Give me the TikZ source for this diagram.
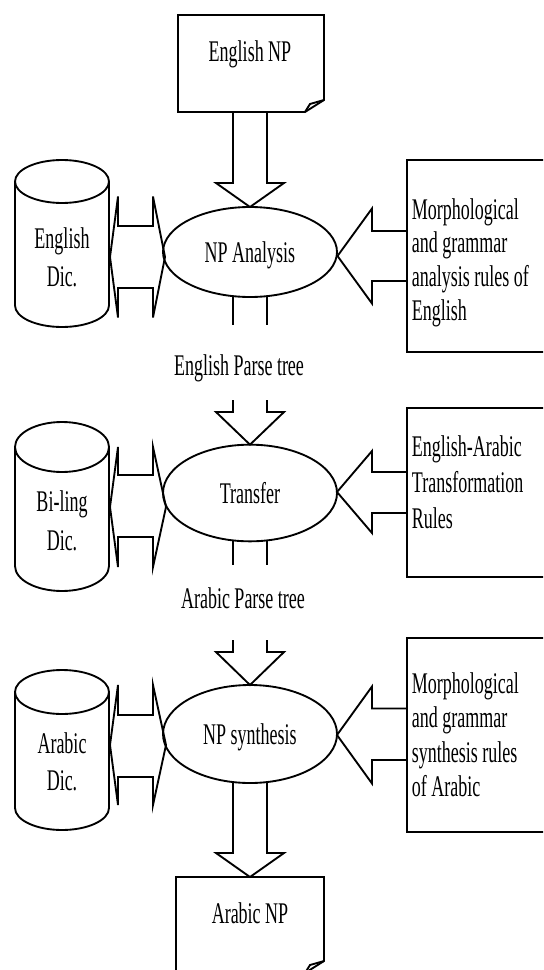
\documentclass[tikz,border=0pt]{standalone}
\usepackage{fontspec}
\setmainfont[FakeStretch=0.6]{Liberation Serif}
\usetikzlibrary{shapes.geometric}
\newcommand\fs{\fontsize{22.5pt}{26pt}\selectfont}
\begin{document}
\begin{tikzpicture}[x=0.75pt,y=-0.75pt,line width=1.4pt,line join=miter,
  lbl/.style={font=\fs,inner sep=0pt,anchor=base},
  rl/.style={font=\fs,inner sep=0pt,anchor=base west},
  proc/.style={draw,ellipse,inner sep=0pt,outer sep=0pt,minimum width=130.5pt,font=\fs,text depth=0pt}]
\useasboundingbox (0,0) rectangle (543,970);
\fill[white] (0,0) rectangle (543,970);
\clip (0,0) rectangle (543,970);

% ---------- top document: English NP
\draw (178,15) -- (324,15) -- (324,100) -- (305,112) -- (178,112) -- cycle;
\draw (305,112) -- (310,104) -- (324,100);
\node[lbl] (enp) at (250,62) {English NP};

% ---------- row 1
\node[proc,minimum height=67.5pt] (ana) at (250,252) {NP Analysis};
\draw (233,112) -- (233,183) -- (216,183) -- (ana.north) -- (284,183) -- (267,183) -- (267,112);
\draw (233,296) -- (233,325) (267,296) -- (267,325);
\node[lbl] (ept) at (239,375) {English Parse tree};

% cylinder 1
\draw (62,181.5) ellipse [x radius=47, y radius=21.5];
\draw (15,181.5) -- (15,305.5) .. controls (15,317.4) and (36,327) .. (62,327)
      .. controls (88,327) and (109,317.4) .. (109,305.5) -- (109,181.5);
\node[lbl] (d1a) at (62,248) {English};
\node[lbl] (d1b) at (62,286) {Dic.};
% double arrow 1
\draw (110,257) -- (118,196.5) -- (118,226) -- (153,226) -- (153,196.5) -- (165,257)
      -- (153,317.5) -- (153,288) -- (118,288) -- (118,317.5) -- cycle;
% rules box 1
\draw (560,160) -- (407,160) -- (407,352) -- (560,352);
\draw (407,231) -- (372,231) -- (372,208.5) -- (337.5,256) -- (372,303.5) -- (372,281) -- (407,281);
\node[rl] (r1a) at (411,219) {Morphological};
\node[rl] (r1b) at (411,252.7) {and grammar};
\node[rl] (r1c) at (411,286.4) {analysis rules of};
\node[rl] (r1d) at (411,320) {English};

% ---------- row 2
\node[proc,minimum height=72.5pt] (tra) at (250,493) {Transfer};
\draw (233,400) -- (233,412) -- (216,412) -- (tra.north) -- (284,412) -- (267,412) -- (267,400);
\draw (233,540.4) -- (233,565) (267,540.4) -- (267,565);
\node[lbl] (apt) at (243,608) {Arabic Parse tree};

\draw (62,447) ellipse [x radius=47, y radius=25];
\draw (15,447) -- (15,566) .. controls (15,579.8) and (36,591) .. (62,591)
      .. controls (88,591) and (109,579.8) .. (109,566) -- (109,447);
\node[lbl] (d2a) at (62,511) {Bi-ling};
\node[lbl] (d2b) at (62,550) {Dic.};
\draw (110,507) -- (118,447) -- (118,475) -- (153,475) -- (153,447) -- (166,507)
      -- (153,567) -- (153,537) -- (118,537) -- (118,567) -- cycle;
\draw (560,408) -- (407,408) -- (407,577) -- (560,577);
\draw (407,472) -- (372,472) -- (372,451) -- (337,492) -- (372,533) -- (372,513) -- (407,513);
\node[rl] (r2a) at (411,456) {English-Arabic};
\node[rl] (r2b) at (411,492) {Transformation};
\node[rl] (r2c) at (411,528) {Rules};

% ---------- row 3
\node[proc,minimum height=73.5pt] (syn) at (250,734) {NP synthesis};
\draw (233,640) -- (233,652) -- (216,652) -- (syn.north) -- (284,652) -- (267,652) -- (267,640);

\draw (62,692) ellipse [x radius=47, y radius=22];
\draw (15,692) -- (15,808) .. controls (15,820.1) and (36,830) .. (62,830)
      .. controls (88,830) and (109,820.1) .. (109,808) -- (109,692);
\node[lbl] (d3a) at (62,753) {Arabic};
\node[lbl] (d3b) at (62,790) {Dic.};
\draw (110,745) -- (118,685) -- (118,715) -- (153,715) -- (153,685) -- (166,745)
      -- (153,805) -- (153,777) -- (118,777) -- (118,805) -- cycle;
\draw (560,638) -- (407,638) -- (407,832) -- (560,832);
\draw (407,708.5) -- (372,708.5) -- (372,686.5) -- (337,735) -- (372,783.5) -- (372,760) -- (407,760);
\node[rl] (r3a) at (411,693) {Morphological};
\node[rl] (r3b) at (411,727.5) {and grammar};
\node[rl] (r3c) at (411,762) {synthesis rules};
\node[rl] (r3d) at (411,796.5) {of Arabic};

% ---------- bottom document: Arabic NP
\draw (176,877) -- (324,877) -- (324,961) -- (305,973) -- (176,973) -- cycle;
\draw (305,973) -- (310,965) -- (324,961);
\draw (233,782) -- (233,853) -- (216,853) -- (250,877) -- (284,853) -- (267,853) -- (267,782);
\node[lbl] (anp) at (250,923) {Arabic NP};
\end{tikzpicture}
\end{document}
